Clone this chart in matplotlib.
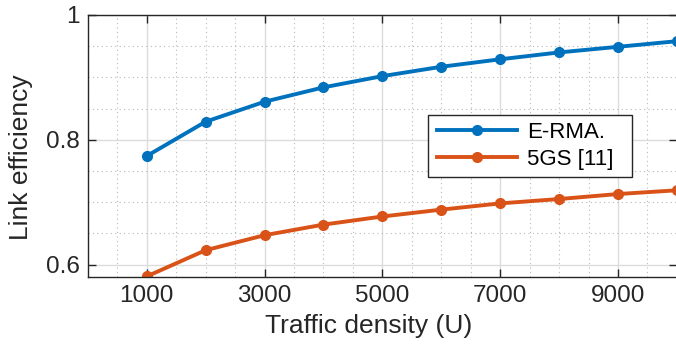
import matplotlib
matplotlib.use("Agg")
import matplotlib.pyplot as plt
from matplotlib.patches import Rectangle
from matplotlib.ticker import MultipleLocator

# data
traffic = [1000, 2000, 3000, 4000, 5000, 6000, 7000, 8000, 9000, 10000]
erma = [0.774, 0.829, 0.861, 0.884, 0.902, 0.917, 0.929, 0.940, 0.949, 0.958]
fivegs = [0.581, 0.623, 0.647, 0.664, 0.677, 0.688, 0.698, 0.705, 0.713, 0.719]
xticks = [1000, 3000, 5000, 7000, 9000]
yticks = [0.6, 0.8, 1.0]
ytick_labels = ["0.6", "0.8", "1"]

plt.rcParams['font.family'] = ['Liberation Sans', 'DejaVu Sans']

fig = plt.figure(figsize=(6.76, 3.47), dpi=100)
# right spine sits just past the picture edge, as in the reference
ax = fig.add_axes([0.130, 0.2017, 0.8713, 0.7551])

ax.plot(traffic, erma, color='#0072BD', lw=2.8, marker='o', markersize=7, label='E-RMA.')
ax.plot(traffic, fivegs, color='#D95319', lw=2.8, marker='o', markersize=7, label='5GS [11]')

ax.set_xlim(0, 10000)
ax.set_ylim(0.58, 1.0)
ax.set_xticks(xticks)
ax.set_yticks(yticks)
ax.set_yticklabels(ytick_labels)
ax.xaxis.set_minor_locator(MultipleLocator(500))
ax.yaxis.set_minor_locator(MultipleLocator(0.05))

ax.grid(True, which='major', color='#dcdcdc', lw=1.0, ls='-')
ax.grid(True, which='minor', color='#b8b8b8', lw=0.8, ls=(0, (1, 3)))
ax.set_axisbelow(True)

ax.tick_params(which='both', direction='in', top=True, right=True, labelsize=17.5, colors='#262626')
ax.tick_params(which='major', length=6, width=1, pad=6)
ax.tick_params(which='minor', length=0)
for s in ax.spines.values():
    s.set_color('#262626')
    s.set_linewidth(1.0)

ax.set_xlabel('Traffic density (U)', fontsize=19, color='#262626', labelpad=2)
ax.set_ylabel('Link efficiency', fontsize=19, color='#262626', labelpad=9)
ax.xaxis.set_label_coords(0.477, -0.14)
ax.yaxis.label.set_y(0.458)

# legend box (MATLAB style, extra room on the right)
box = Rectangle((0.578, 0.382), 0.346, 0.236, transform=ax.transAxes,
                facecolor='white', edgecolor='#262626', lw=1.0, zorder=4)
ax.add_patch(box)
leg = ax.legend(loc='center left', bbox_to_anchor=(0.593, 0.5), fontsize=16,
                frameon=False, borderpad=0, borderaxespad=0,
                handlelength=3.6, labelspacing=0.25, handletextpad=0.45)
leg.set_zorder(5)

fig.savefig('out.png', dpi=100)
